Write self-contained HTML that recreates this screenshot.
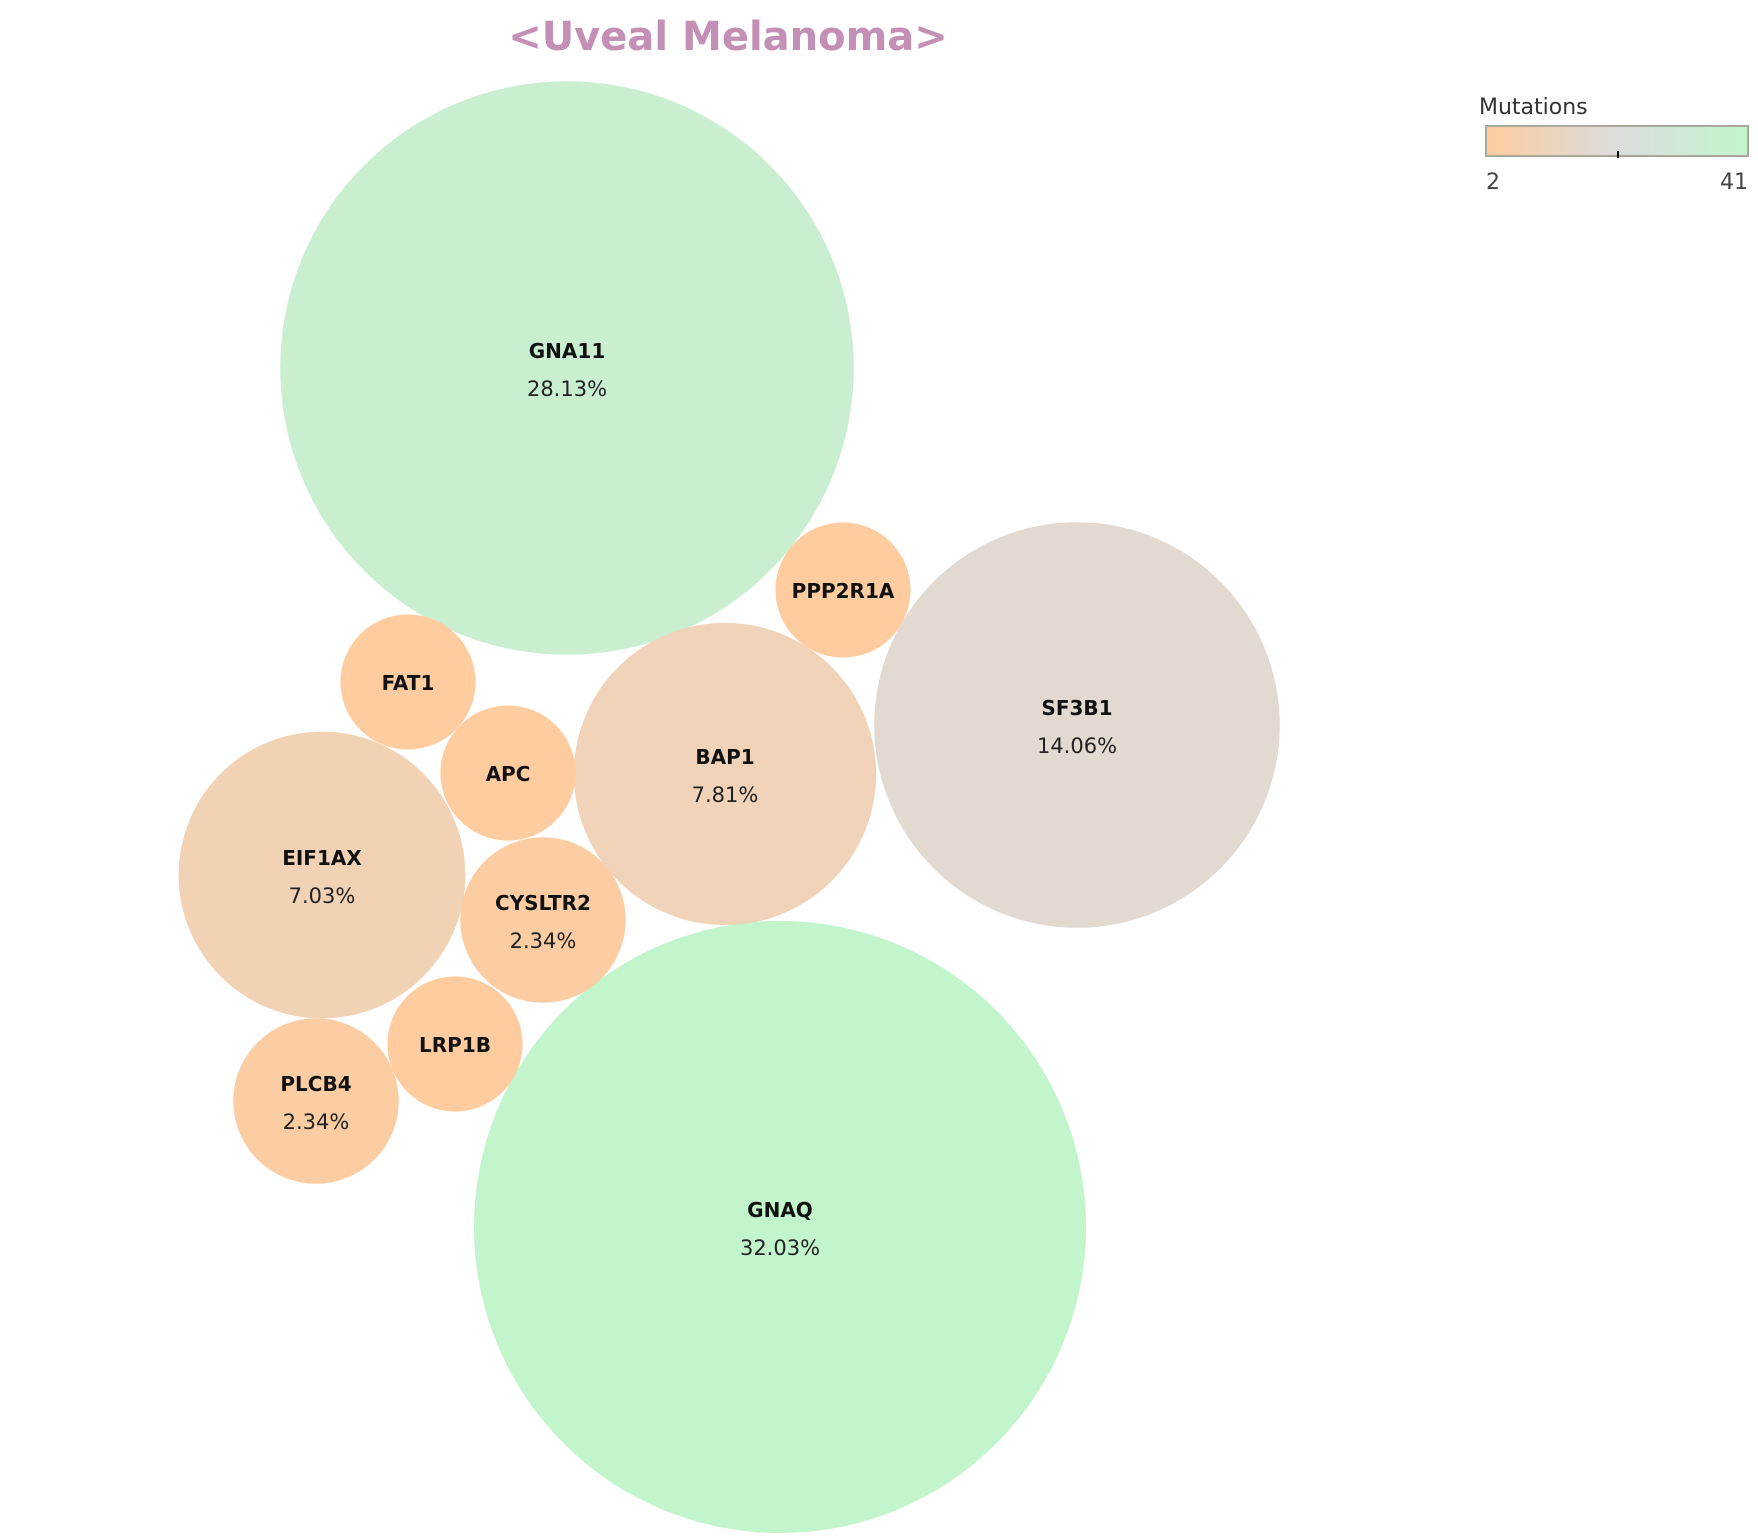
<!DOCTYPE html>
<html><head><meta charset="utf-8"><style>
body{margin:0;background:#fff;}
svg{display:block;font-family:"DejaVu Sans","Liberation Sans",sans-serif;}
</style></head><body>
<svg width="1758" height="1536">
<defs><linearGradient id="cg" x1="0" x2="1" y1="0" y2="0">
<stop offset="0" stop-color="#fecc9f"/><stop offset="0.5" stop-color="#dcdcdc"/><stop offset="1" stop-color="#c2f5cc"/></linearGradient></defs>
<text x="728" y="50" text-anchor="middle" font-size="40" font-weight="bold" fill="#c48fb5">&lt;Uveal Melanoma&gt;</text>
<g id="bubbles"></g>
<g>
<text x="1479" y="114" font-size="22" fill="#333">Mutations</text>
<rect x="1486" y="126" width="262" height="30" fill="url(#cg)" stroke="#aaa89a" stroke-width="2"/>
<line x1="1618" y1="151" x2="1618" y2="158" stroke="#000" stroke-width="2"/>
<text x="1486" y="189" font-size="22" fill="#444">2</text>
<text x="1748" y="189" font-size="22" fill="#444" text-anchor="end">41</text>
</g>
</svg>
<script>
const genes=["GNAQ","GNA11","SF3B1","BAP1","EIF1AX","CYSLTR2","PLCB4","LRP1B","APC","FAT1","PPP2R1A"];
const counts=[41,36,18,10,9,3,3,2,2,2,2];
const centerX=[780,567,1077,725,322,543,316,455,508,408,843];
const centerY=[1227,368,725,774,875,920,1101,1044,773,682,590];
const total=128;
const rScale=c=>47.8*Math.sqrt(c);
function lerp(a,b,t){return a.map((v,i)=>Math.round(v+(b[i]-v)*t));}
function color(c){const t=(c-2)/(41-2);const lo=[254,204,159],mid=[220,220,220],hi=[194,245,204];
const v=t<0.5?lerp(lo,mid,t*2):lerp(mid,hi,(t-0.5)*2);return `rgb(${v})`;}
const g=document.getElementById('bubbles');const NS='http://www.w3.org/2000/svg';
genes.forEach((name,i)=>{
const c=document.createElementNS(NS,'circle');
c.setAttribute('cx',centerX[i]);c.setAttribute('cy',centerY[i]);c.setAttribute('r',rScale(counts[i]));
c.setAttribute('fill',color(counts[i]));


g.appendChild(c);
const showPct=counts[i]>=3;
const t=document.createElementNS(NS,'text');
t.setAttribute('x',centerX[i]);t.setAttribute('y',centerY[i]+(showPct?-10:8));
t.setAttribute('text-anchor','middle');t.setAttribute('font-size','20');t.setAttribute('font-weight','bold');t.setAttribute('fill','#111');
t.textContent=name;


g.appendChild(t);
if(showPct){const p=document.createElementNS(NS,'text');
p.setAttribute('x',centerX[i]);p.setAttribute('y',centerY[i]+28);
p.setAttribute('text-anchor','middle');p.setAttribute('font-size','21');p.setAttribute('fill','#222');
p.textContent=(counts[i]/total*100).toFixed(2)+'%';


g.appendChild(p);}
});
</script>
</body></html>
